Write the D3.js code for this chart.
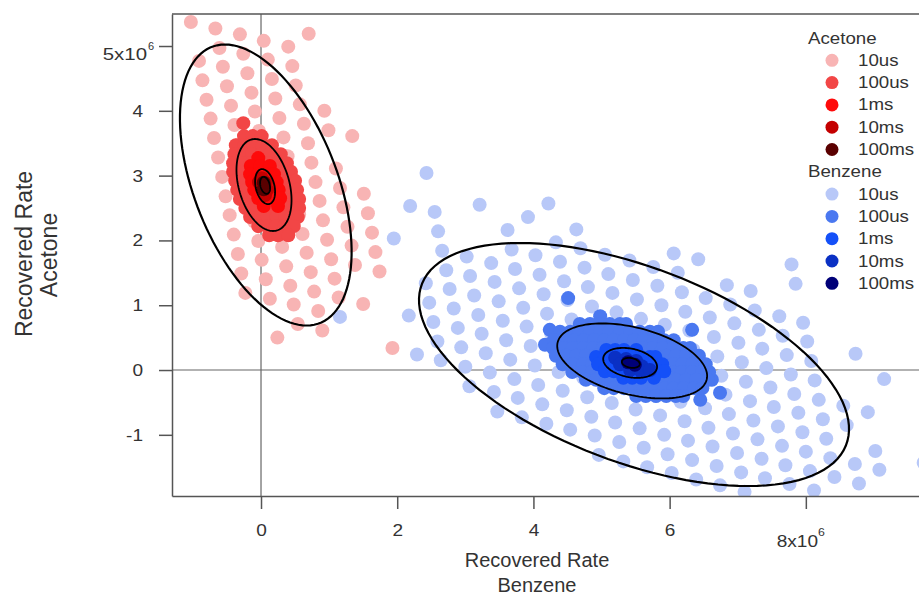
<!DOCTYPE html>
<html>
<head>
<meta charset="utf-8">
<script src="https://cdn.jsdelivr.net/npm/d3@7"></script>
<style>
  body { margin: 0; background: #fff; }
  svg text { font-family: "Liberation Sans", Arial, sans-serif; fill: #333; }
</style>
</head>
<body>
<div id="chart"></div>
<script>
// values in units of 10^6
var xTicks = [0, 2, 4, 6, 8];
var yTicks = [-1, 0, 1, 2, 3, 4, 5];
var levels = ["10us", "100us", "1ms", "10ms", "100ms"];
var acetoneColors = ["#f8b4b4", "#f24646", "#fe0a0a", "#c40000", "#5a0000"];
var benzeneColors = ["#b8c8f8", "#4a78f0", "#1450f8", "#0a30c4", "#000078"];

var acetone10us = [
  [0.70,5.19],
  [-1.03,5.37],[-0.67,5.27],[-0.31,5.18],[0.04,5.08],[0.40,4.99],
  [-0.61,4.97],[-0.26,4.88],[0.10,4.79],[0.46,4.69],
  [-0.91,4.77],[-0.56,4.68],[-0.20,4.58],[0.16,4.49],[0.51,4.39],
  [-0.86,4.47],[-0.50,4.38],[-0.14,4.28],[0.21,4.19],[0.57,4.10],[0.93,4.00],
  [-0.80,4.17],[-0.44,4.08],[-0.09,3.99],[0.27,3.89],[0.63,3.80],[0.99,3.70],[1.34,3.61],
  [-0.74,3.88],[-0.39,3.78],[-0.03,3.69],[0.33,3.59],[0.69,3.50],
  [-0.69,3.58],[-0.33,3.48],[0.03,3.39],[0.39,3.30],[0.74,3.20],[1.10,3.11],
  [-0.63,3.28],[-0.27,3.19],[0.09,3.09],[0.44,3.00],[0.80,2.90],[1.16,2.81],[1.51,2.72],
  [-0.57,2.98],[-0.22,2.89],[0.14,2.79],[0.50,2.70],[0.86,2.61],[1.21,2.51],[1.57,2.42],
  [-0.52,2.68],[-0.16,2.59],[0.20,2.50],[0.56,2.40],[0.91,2.31],[1.27,2.21],[1.63,2.12],
  [-0.46,2.39],[-0.10,2.29],[0.26,2.20],[0.61,2.10],[0.97,2.01],[1.33,1.92],[1.68,1.82],
  [-0.40,2.09],[-0.04,1.99],[0.31,1.90],[0.67,1.81],[1.03,1.71],[1.38,1.62],[1.74,1.52],
  [-0.34,1.79],[0.01,1.70],[0.37,1.60],[0.73,1.51],[1.08,1.41],
  [-0.29,1.49],[0.07,1.40],[0.43,1.30],[0.78,1.21],[1.14,1.12],[1.50,1.02],
  [-0.23,1.19],[0.13,1.10],[0.48,1.01],[0.84,0.91],
  [0.54,0.71],[0.90,0.61],
  [0.24,0.50],
  [1.93,0.34]
];

var acetone100us = [
  [-0.26,3.81],
  [-0.25,3.61],[-0.12,3.61],[0.01,3.61],
  [-0.37,3.47],[-0.24,3.47],[-0.11,3.47],[0.02,3.47],[0.16,3.47],
  [-0.39,3.33],[-0.26,3.33],[-0.13,3.33],[0.00,3.33],[0.13,3.33],[0.29,3.33],
  [-0.41,3.19],[-0.28,3.19],[-0.15,3.19],[-0.02,3.19],[0.11,3.19],[0.24,3.19],[0.38,3.19],
  [-0.41,3.06],[-0.28,3.06],[-0.15,3.06],[-0.02,3.06],[0.11,3.06],[0.24,3.06],[0.37,3.06],[0.44,3.06],
  [-0.38,2.92],[-0.25,2.92],[-0.12,2.92],[0.01,2.92],[0.14,2.92],[0.27,2.92],[0.40,2.92],[0.50,2.92],
  [-0.35,2.78],[-0.22,2.78],[-0.09,2.78],[0.04,2.78],[0.17,2.78],[0.30,2.78],[0.43,2.78],[0.53,2.78],
  [-0.31,2.64],[-0.18,2.64],[-0.05,2.64],[0.08,2.64],[0.21,2.64],[0.34,2.64],[0.47,2.64],[0.56,2.64],
  [-0.23,2.50],[-0.10,2.50],[0.03,2.50],[0.16,2.50],[0.29,2.50],[0.42,2.50],[0.56,2.50],
  [-0.16,2.36],[-0.03,2.36],[0.10,2.36],[0.23,2.36],[0.36,2.36],[0.54,2.36],
  [-0.04,2.22],[0.09,2.22],[0.22,2.22],[0.35,2.22],[0.48,2.22],
  [0.12,2.08],[0.25,2.08],[0.40,2.08]
];

var acetone1ms = [
  [-0.04,3.27],
  [-0.15,3.15],[-0.01,3.15],[0.13,3.15],
  [-0.16,3.02],[-0.04,3.02],[0.07,3.02],[0.19,3.02],
  [-0.13,2.90],[-0.01,2.90],[0.10,2.90],[0.23,2.90],
  [-0.10,2.78],[0.01,2.78],[0.15,2.78],[0.26,2.78],
  [-0.04,2.65],[0.12,2.65],[0.28,2.65],
  [0.04,2.53],[0.25,2.53]
];

var acetone10ms = [[0.01,2.96],[-0.03,2.90],[0.07,2.89],[0.01,2.81],[0.09,2.78],[0.06,2.70]];
var acetone100ms = [[0.04,2.89],[0.04,2.79]];

var benzene10us = [
  [2.43,3.04],[4.22,2.57],[3.21,2.55],[3.92,2.36],[4.63,2.17],[2.19,2.53],[2.55,2.44],
  [3.62,2.16],[4.33,1.97],[2.60,2.14],[1.95,2.03],[2.66,1.84],
  [2.17,0.84],[2.29,0.24],[2.64,0.15],[1.16,0.82],[3.06,-0.25],[3.47,-0.64],
  [6.06,1.80],[6.42,1.71],[7.79,1.63],[7.85,1.33],[5.76,1.59],[6.12,1.50],[6.84,1.31],
  [7.19,1.22],[7.25,0.92],[7.61,0.83],[7.96,0.73],[8.02,0.44],[8.73,0.25],[9.15,-0.14],
  [8.91,-0.65],[9.02,-1.25],[9.73,-1.43],[8.72,-1.45],[9.08,-1.54],[8.78,-1.75],[8.42,-1.65],
  [7.76,-1.76],[8.12,-1.86],[6.74,-1.78],[7.10,-1.88],
  [4.69,1.88],[5.05,1.78],[5.41,1.69],
  [3.68,1.86],[4.03,1.77],[4.39,1.67],[4.75,1.58],[5.10,1.48],[5.46,1.39],[5.82,1.30],[6.18,1.20],[6.53,1.11],[6.89,1.01],
  [3.02,1.75],[3.38,1.65],[3.73,1.56],[4.09,1.47],[4.45,1.37],[4.80,1.28],[5.16,1.19],[5.52,1.09],[5.88,1.00],[6.23,0.90],[6.59,0.81],[6.95,0.72],[7.31,0.62],[7.66,0.53],
  [2.72,1.54],[3.07,1.45],[3.43,1.36],[3.79,1.26],[4.15,1.17],[4.50,1.08],[4.86,0.98],[5.22,0.89],[5.58,0.79],[5.93,0.70],[6.29,0.61],[6.65,0.51],[7.01,0.42],[7.36,0.33],[7.72,0.23],[8.08,0.14],
  [2.42,1.34],[2.77,1.25],[3.13,1.15],[3.49,1.06],[3.85,0.96],[4.20,0.87],[4.56,0.78],[4.92,0.68],[5.28,0.59],[5.63,0.50],[5.99,0.40],[6.35,0.31],[6.70,0.21],[7.06,0.12],[7.42,0.03],[7.78,-0.07],[8.13,-0.16],
  [2.47,1.04],[2.83,0.95],[3.19,0.85],[3.55,0.76],[3.90,0.67],[4.26,0.57],[4.62,0.48],[4.98,0.38],[5.33,0.29],[5.69,0.20],[6.05,0.10],[6.40,0.01],[6.76,-0.09],[7.12,-0.18],[7.48,-0.27],[7.83,-0.37],[8.19,-0.46],[8.55,-0.55],
  [2.53,0.74],[2.89,0.65],[3.24,0.56],[3.60,0.46],[3.96,0.37],[4.32,0.27],[4.67,0.18],[5.03,0.09],[5.39,-0.01],[5.75,-0.10],[6.10,-0.20],[6.46,-0.29],[6.82,-0.38],[7.18,-0.48],[7.53,-0.57],[7.89,-0.66],[8.25,-0.76],[8.60,-0.85],
  [2.59,0.44],[2.94,0.35],[3.30,0.26],[3.66,0.16],[4.02,0.07],[4.37,-0.03],[4.73,-0.12],[5.09,-0.21],[5.45,-0.31],[5.80,-0.40],[6.16,-0.49],[6.52,-0.59],[6.87,-0.68],[7.23,-0.78],[7.59,-0.87],[7.95,-0.96],[8.30,-1.06],
  [3.00,0.05],[3.36,-0.04],[3.72,-0.14],[4.07,-0.23],[4.43,-0.32],[4.79,-0.42],[5.15,-0.51],[5.50,-0.61],[5.86,-0.70],[6.22,-0.79],[6.57,-0.89],[6.93,-0.98],[7.29,-1.07],[7.65,-1.17],[8.00,-1.26],[8.36,-1.36],
  [3.42,-0.34],[3.77,-0.43],[4.13,-0.53],[4.49,-0.62],[4.85,-0.72],[5.20,-0.81],[5.56,-0.90],[5.92,-1.00],[6.27,-1.09],[6.63,-1.18],[6.99,-1.28],[7.35,-1.37],[7.70,-1.47],[8.06,-1.56],
  [3.83,-0.73],[4.19,-0.83],[4.54,-0.92],[4.90,-1.01],[5.26,-1.11],[5.62,-1.20],[5.97,-1.30],[6.33,-1.39],[6.69,-1.48],[7.05,-1.58],[7.40,-1.67],
  [4.96,-1.31],[5.32,-1.41],[5.67,-1.50],[6.03,-1.59],[6.39,-1.69]
];

var benzene100us = [
  [4.51,1.11],[4.24,0.62],[6.33,0.62],[6.74,-0.35],[4.17,0.39],[6.62,-0.15],[6.45,-0.46],[4.98,0.83],
  [4.68,0.71],[4.83,0.71],[4.98,0.71],[5.12,0.71],[5.27,0.71],[5.36,0.71],
  [4.39,0.59],[4.54,0.59],[4.68,0.59],[4.83,0.59],[4.98,0.59],[5.12,0.59],[5.27,0.59],[5.42,0.59],[5.56,0.59],[5.71,0.59],[5.83,0.59],
  [4.30,0.46],[4.45,0.46],[4.60,0.46],[4.74,0.46],[4.89,0.46],[5.04,0.46],[5.18,0.46],[5.33,0.46],[5.48,0.46],[5.62,0.46],[5.77,0.46],[5.92,0.46],[6.06,0.46],
  [4.29,0.34],[4.44,0.34],[4.58,0.34],[4.73,0.34],[4.88,0.34],[5.02,0.34],[5.17,0.34],[5.32,0.34],[5.46,0.34],[5.61,0.34],[5.76,0.34],[5.90,0.34],[6.05,0.34],[6.20,0.34],[6.30,0.34],
  [4.33,0.22],[4.48,0.22],[4.63,0.22],[4.77,0.22],[4.92,0.22],[5.07,0.22],[5.21,0.22],[5.36,0.22],[5.51,0.22],[5.65,0.22],[5.80,0.22],[5.95,0.22],[6.09,0.22],[6.24,0.22],[6.39,0.22],[6.43,0.22],
  [4.43,0.09],[4.58,0.09],[4.73,0.09],[4.87,0.09],[5.02,0.09],[5.17,0.09],[5.31,0.09],[5.46,0.09],[5.61,0.09],[5.75,0.09],[5.90,0.09],[6.05,0.09],[6.19,0.09],[6.34,0.09],[6.49,0.09],[6.53,0.09],
  [4.57,-0.03],[4.72,-0.03],[4.86,-0.03],[5.01,-0.03],[5.16,-0.03],[5.30,-0.03],[5.45,-0.03],[5.60,-0.03],[5.74,-0.03],[5.89,-0.03],[6.04,-0.03],[6.18,-0.03],[6.33,-0.03],[6.48,-0.03],[6.58,-0.03],
  [4.77,-0.15],[4.92,-0.15],[5.07,-0.15],[5.21,-0.15],[5.36,-0.15],[5.51,-0.15],[5.65,-0.15],[5.80,-0.15],[5.95,-0.15],[6.09,-0.15],[6.24,-0.15],[6.39,-0.15],[6.56,-0.15],
  [5.04,-0.28],[5.18,-0.28],[5.33,-0.28],[5.48,-0.28],[5.62,-0.28],[5.77,-0.28],[5.92,-0.28],[6.06,-0.28],[6.21,-0.28],[6.36,-0.28],[6.48,-0.28],
  [5.51,-0.40],[5.65,-0.40],[5.80,-0.40],[5.95,-0.40],[6.09,-0.40],[6.20,-0.40]
];

var benzene1ms = [
  [5.07,0.31],[5.20,0.31],[5.33,0.31],[5.51,0.31],
  [4.92,0.20],[5.05,0.20],[5.18,0.20],[5.32,0.20],[5.45,0.20],[5.58,0.20],[5.71,0.20],[5.79,0.20],
  [4.95,0.09],[5.08,0.09],[5.21,0.09],[5.35,0.09],[5.48,0.09],[5.61,0.09],[5.74,0.09],[5.89,0.09],
  [5.05,-0.02],[5.18,-0.02],[5.32,-0.02],[5.45,-0.02],[5.58,-0.02],[5.71,-0.02],[5.84,-0.02],[5.92,-0.02],
  [5.32,-0.12],[5.45,-0.12],[5.58,-0.12],[5.77,-0.12]
];

var benzene10ms = [[5.20,0.19],[5.36,0.17],[5.51,0.14],[5.27,0.09],[5.43,0.08],[5.59,0.06],[5.42,0.00],[5.58,-0.02],[5.71,0.00]];
var benzene100ms = [[5.39,0.12],[5.49,0.08]];

// confidence ellipses: centre plus two conjugate semi-axis vectors
var acetoneEllipses = [
  {cx: 0.07, cy: 2.855, ux: -0.599, uy: 2.168, vx: 1.109, vy: 0},
  {cx: 0.044, cy: 2.855, ux: -0.132, uy: 0.710, vx: 0.382, vy: 0},
  {cx: 0.06, cy: 2.83, ux: -0.044, uy: 0.270, vx: 0.140, vy: 0},
  {cx: 0.06, cy: 2.85, ux: -0.022, uy: 0.131, vx: 0.070, vy: 0}
];
var benzeneEllipses = [
  {cx: 5.477, cy: 0.085, ux: -1.674, uy: 1.875, vx: 2.677, vy: 0},
  {cx: 5.45, cy: 0.14, ux: -0.44, uy: 0.579, vx: 1.009, vy: 0},
  {cx: 5.42, cy: 0.11, ux: -0.103, uy: 0.231, vx: 0.382, vy: 0},
  {cx: 5.43, cy: 0.11, ux: -0.029, uy: 0.077, vx: 0.128, vy: 0}
];

var svgWidth = 919;
var svgHeight = 596;
var plotLeft = 172, plotTop = 14, plotBottom = 496, plotRight = 940;

var svg = d3.select("#chart").append("svg")
    .attr("width", svgWidth)
    .attr("height", svgHeight);

var x = d3.scaleLinear().domain([-1.307, 9.97]).range([plotLeft, plotRight]);
var y = d3.scaleLinear().domain([-1.944, 5.494]).range([plotBottom, plotTop]);

// the source renders its text a little wide
function widen(sel, k) {
  sel.each(function() {
    var w = this.getComputedTextLength();
    if (w > 0) d3.select(this).attr("textLength", w * k).attr("lengthAdjust", "spacingAndGlyphs");
  });
}

svg.append("clipPath").attr("id", "plotclip")
  .append("rect")
    .attr("x", plotLeft).attr("y", plotTop)
    .attr("width", plotRight - plotLeft).attr("height", plotBottom - plotTop);

var plot = svg.append("g").attr("clip-path", "url(#plotclip)");

// zero lines
plot.append("line")
    .attr("x1", x(0)).attr("x2", x(0)).attr("y1", plotTop).attr("y2", plotBottom)
    .attr("stroke", "#666").attr("stroke-width", 1.2);
plot.append("line")
    .attr("x1", plotLeft).attr("x2", plotRight).attr("y1", y(0)).attr("y2", y(0))
    .attr("stroke", "#666").attr("stroke-width", 1.2);

function drawDots(data, color) {
  plot.append("g").selectAll("circle")
    .data(data)
    .join("circle")
    .attr("cx", d => x(d[0]))
    .attr("cy", d => y(d[1]))
    .attr("r", 7)
    .attr("fill", color);
}

var acetoneSeries = [acetone10us, acetone100us, acetone1ms, acetone10ms, acetone100ms];
var benzeneSeries = [benzene10us, benzene100us, benzene1ms, benzene10ms, benzene100ms];
acetoneSeries.forEach((s, i) => drawDots(s, acetoneColors[i]));
benzeneSeries.forEach((s, i) => drawDots(s, benzeneColors[i]));

var ellipseLine = d3.line().x(p => x(p[0])).y(p => y(p[1]));
function ellipsePoints(e) {
  return d3.range(0, 361, 3).map(function(a) {
    var t = a * Math.PI / 180;
    return [e.cx + e.ux * Math.cos(t) + e.vx * Math.sin(t),
            e.cy + e.uy * Math.cos(t) + e.vy * Math.sin(t)];
  });
}
acetoneEllipses.concat(benzeneEllipses).forEach(function(e, i) {
  plot.append("path")
    .attr("d", ellipseLine(ellipsePoints(e)))
    .attr("fill", "none")
    .attr("stroke", "#000")
    .attr("stroke-width", (i % 4 === 0) ? 2.2 : 1.8);
});

// frame and axes
svg.append("line")
    .attr("x1", plotLeft).attr("x2", plotRight).attr("y1", plotTop).attr("y2", plotTop)
    .attr("stroke", "#555").attr("stroke-width", 1.5);

var xAxis = d3.axisBottom(x)
    .tickValues(xTicks)
    .tickSize(13).tickSizeOuter(0).tickPadding(15)
    .tickFormat(d => d === 8 ? "" : d);
var yAxis = d3.axisLeft(y)
    .tickValues(yTicks)
    .tickSize(13).tickSizeOuter(0).tickPadding(16)
    .tickFormat(d => d === 5 ? "" : d);

var gx = svg.append("g").attr("transform", `translate(0, ${plotBottom})`).call(xAxis);
var gy = svg.append("g").attr("transform", `translate(${plotLeft}, 0)`).call(yAxis);
[gx, gy].forEach(function(g) {
  g.attr("font-family", null);
  g.selectAll(".domain, .tick line").attr("stroke", "#555").attr("stroke-width", 1.5);
  g.selectAll(".tick text").attr("fill", "#333").style("font-size", "17px");
  widen(g.selectAll(".tick text"), 1.12);
});

// exponent labels
var xExp = svg.append("text")
    .attr("x", x(8) - 5).attr("y", plotBottom + 51)
    .attr("text-anchor", "middle").style("font-size", "17px");
xExp.append("tspan").text("8x10");
xExp.append("tspan").attr("dy", -11).style("font-size", "11px").text("6");
widen(xExp, 1.12);

var yExp = svg.append("text")
    .attr("x", plotLeft - 25).attr("y", y(5) + 14)
    .attr("text-anchor", "end").style("font-size", "17px")
    .text("5x10");
widen(yExp, 1.2);
svg.append("text")
    .attr("x", plotLeft - 24).attr("y", y(5) + 4)
    .style("font-size", "11px")
    .text("6");

// axis titles
svg.append("text")
    .attr("x", 537).attr("y", 567)
    .attr("text-anchor", "middle").style("font-size", "20px")
    .text("Recovered Rate");
svg.append("text")
    .attr("x", 537).attr("y", 592)
    .attr("text-anchor", "middle").style("font-size", "20px")
    .text("Benzene");
svg.append("text")
    .attr("transform", "translate(32, 254) rotate(-90)")
    .attr("text-anchor", "middle").style("font-size", "23px")
    .text("Recovered Rate");
svg.append("text")
    .attr("transform", "translate(57, 255) rotate(-90)")
    .attr("text-anchor", "middle").style("font-size", "23px")
    .text("Acetone");

// legend
var legendGroups = [
  {title: "Acetone", colors: acetoneColors},
  {title: "Benzene", colors: benzeneColors}
];
var legend = svg.append("g");
var rowH = 22.3;
legendGroups.forEach(function(g, gi) {
  var y0 = 38 + gi * 6 * rowH;
  legend.append("text")
      .attr("x", 808).attr("y", y0)
      .attr("dominant-baseline", "central")
      .style("font-size", "17px")
      .text(g.title);
  levels.forEach(function(lv, i) {
    var yy = y0 + (i + 1) * rowH;
    legend.append("circle")
        .attr("cx", 832).attr("cy", yy).attr("r", 6.5)
        .attr("fill", g.colors[i]);
    legend.append("text")
        .attr("x", 858).attr("y", yy)
        .attr("dominant-baseline", "central")
        .style("font-size", "17px")
        .text(lv);
  });
});
widen(legend.selectAll("text"), 1.1);
</script>
</body>
</html>
